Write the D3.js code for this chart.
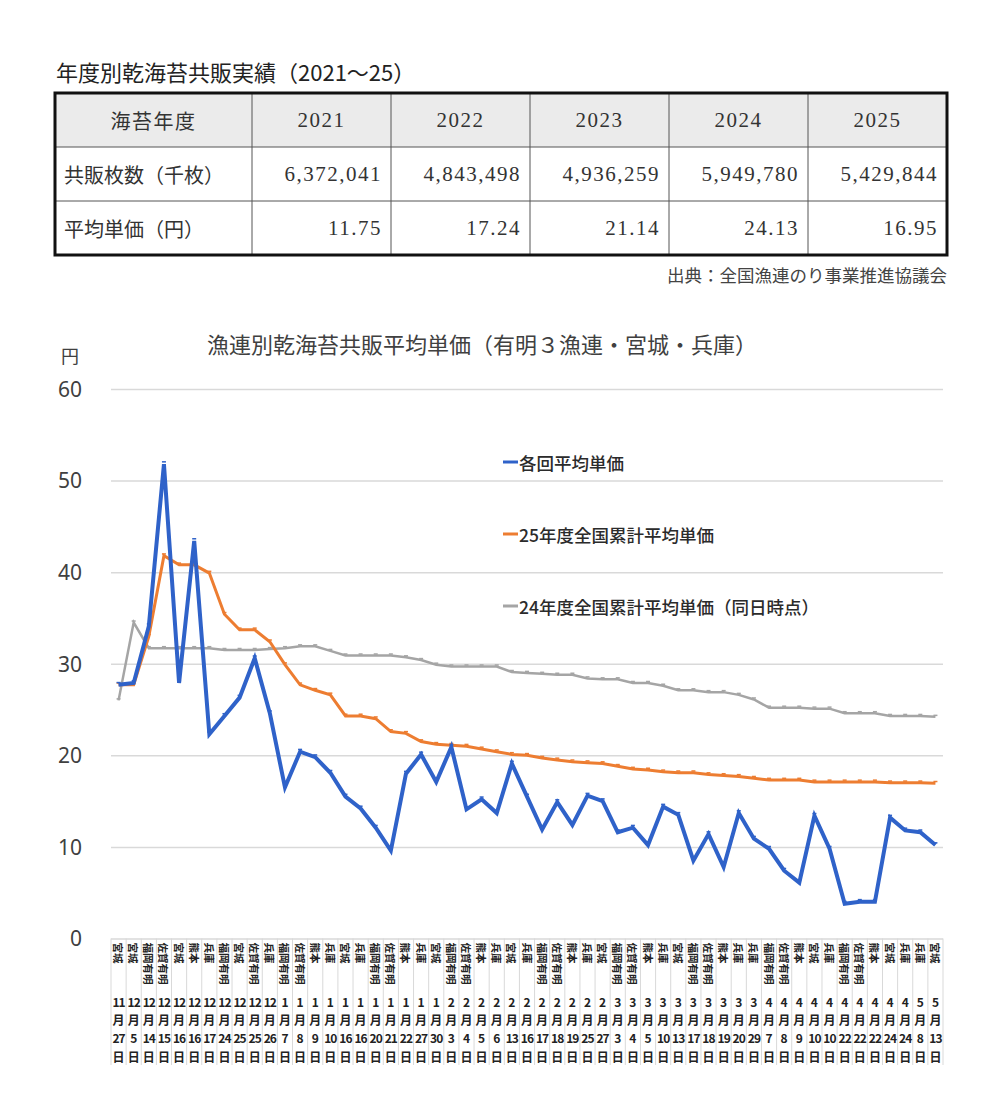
<!DOCTYPE html>
<html lang="ja">
<head>
  <meta charset="UTF-8">
  <title>年度別乾海苔共販実績・漁連別乾海苔共販平均単価</title>
  <script src="https://d3js.org/d3.v7.min.js"></script>
  <style>
    body {
      margin: 0;
      background: #fff;
      font-family: "Noto Sans CJK JP", "Noto Sans", sans-serif;
    }
    svg { display: block; }
    .tbl-text { fill: #333; font-size: 20px; }
    .tbl-num { font-family: "Liberation Serif", "Noto Sans CJK JP", serif; font-size: 21px; letter-spacing: 1.5px; }
    .y-axis text { font-family: "Noto Sans", sans-serif; font-size: 21px; fill: #404040; }
    .y-axis line { stroke: #d9d9d9; stroke-width: 1.5; }
    .y-axis path { display: none; }
    .series { fill: none; }
  </style>
</head>
<body>
  <svg id="chart" width="1000" height="1111"></svg>

  <script>
    // --- table data ---
    const tableYears = ["2021", "2022", "2023", "2024", "2025"];
    const salesSheets = [6372041, 4843498, 4936259, 5949780, 5429844];   // 千枚
    const avgPrices = [11.75, 17.24, 21.14, 24.13, 16.95];               // 円

    // --- chart data ---
    const regions = [
      "宮城", "宮城", "福岡有明", "佐賀有明", "宮城", "熊本", "兵庫", "福岡有明", "宮城", "佐賀有明",
      "兵庫", "福岡有明", "佐賀有明", "熊本", "兵庫", "宮城", "兵庫", "福岡有明", "佐賀有明", "熊本",
      "兵庫", "宮城", "福岡有明", "佐賀有明", "熊本", "兵庫", "宮城", "兵庫", "福岡有明", "佐賀有明",
      "熊本", "兵庫", "宮城", "福岡有明", "佐賀有明", "熊本", "兵庫", "宮城", "福岡有明", "佐賀有明",
      "熊本", "兵庫", "兵庫", "福岡有明", "佐賀有明", "熊本", "宮城", "兵庫", "福岡有明", "佐賀有明",
      "熊本", "宮城", "兵庫", "兵庫", "宮城"
    ];
    const months = [
      11, 12, 12, 12, 12, 12, 12, 12, 12, 12,
      12, 1, 1, 1, 1, 1, 1, 1, 1, 1,
      1, 1, 2, 2, 2, 2, 2, 2, 2, 2,
      2, 2, 2, 3, 3, 3, 3, 3, 3, 3,
      3, 3, 3, 4, 4, 4, 4, 4, 4, 4,
      4, 4, 4, 5, 5
    ];
    const days = [
      27, 5, 14, 15, 16, 16, 17, 24, 25, 25,
      26, 7, 8, 9, 10, 16, 16, 20, 21, 22,
      27, 30, 3, 4, 5, 6, 13, 16, 17, 18,
      19, 25, 27, 3, 4, 5, 10, 13, 17, 18,
      19, 20, 29, 7, 8, 9, 10, 10, 22, 22,
      22, 24, 24, 8, 13
    ];
    const eachAvg = [
      27.7, 27.9, 34.1, 51.8, 27.9, 43.4, 22.3, 24.3, 26.3, 30.6,
      24.6, 16.5, 20.4, 19.8, 18.1, 15.5, 14.2, 12.1, 9.6, 18.0,
      20.1, 17.1, 20.9, 14.1, 15.2, 13.7, 19.1, 15.5, 11.9, 14.9,
      12.4, 15.6, 15.0, 11.6, 12.1, 10.2, 14.4, 13.5, 8.5, 11.4,
      7.8, 13.7, 10.9, 9.8, 7.4, 6.1, 13.4, 9.8, 3.8, 4.0,
      4.0, 13.2, 11.8, 11.6, 10.2
    ];
    const cum25 = [
      27.7, 27.7, 33.0, 41.8, 40.8, 40.8, 39.9, 35.4, 33.7, 33.7,
      32.4, 29.9, 27.7, 27.1, 26.6, 24.3, 24.3, 24.0, 22.6, 22.4,
      21.5, 21.2, 21.1, 21.0, 20.7, 20.4, 20.1, 20.0, 19.7, 19.5,
      19.3, 19.2, 19.1, 18.8, 18.5, 18.4, 18.2, 18.1, 18.1, 17.9,
      17.8, 17.7, 17.5, 17.3, 17.3, 17.3, 17.1, 17.1, 17.1, 17.1,
      17.1, 17.0, 17.0, 17.0, 16.95
    ];
    const cum24 = [
      26.0, 34.5, 31.7, 31.7, 31.7, 31.7, 31.7, 31.5, 31.5, 31.5,
      31.6, 31.7, 31.9, 31.9, 31.4, 30.9, 30.9, 30.9, 30.9, 30.7,
      30.4, 29.9, 29.7, 29.7, 29.7, 29.7, 29.1, 29.0, 28.9, 28.8,
      28.8, 28.4, 28.3, 28.3, 27.9, 27.9, 27.6, 27.1, 27.1, 26.9,
      26.9, 26.6, 26.1, 25.2, 25.2, 25.2, 25.1, 25.1, 24.6, 24.6,
      24.6, 24.3, 24.3, 24.3, 24.2
    ];
    const seriesNames = ["各回平均単価", "25年度全国累計平均単価", "24年度全国累計平均単価（同日時点）"];
    const yTicks = [0, 10, 20, 30, 40, 50, 60];

    const svg = d3.select("#chart");

    // ---------- table ----------
    const tLeft = 55, tRight = 947, tTop = 93, rowH = 54, firstColW = 197;
    const colX = d3.scaleBand().domain(tableYears).range([tLeft + firstColW, tRight]);
    const rowY = d3.scaleBand().domain([0, 1, 2]).range([tTop, tTop + rowH * 3]);

    svg.append("text")
      .attr("x", 56).attr("y", 81)
      .attr("font-size", 22).attr("fill", "#222")
      .text("年度別乾海苔共販実績（2021～25）");

    svg.append("rect")
      .attr("x", tLeft).attr("y", rowY(0))
      .attr("width", tRight - tLeft).attr("height", rowY.bandwidth())
      .attr("fill", "#ebebeb");

    // inner lines
    [1, 2].forEach(r => {
      svg.append("line")
        .attr("x1", tLeft).attr("x2", tRight)
        .attr("y1", rowY(r)).attr("y2", rowY(r))
        .attr("stroke", "#555").attr("stroke-width", 1);
    });
    tableYears.forEach(yr => {
      svg.append("line")
        .attr("x1", colX(yr)).attr("x2", colX(yr))
        .attr("y1", tTop).attr("y2", tTop + rowH * 3)
        .attr("stroke", "#555").attr("stroke-width", 1);
    });
    svg.append("rect")
      .attr("x", tLeft).attr("y", tTop)
      .attr("width", tRight - tLeft).attr("height", rowH * 3)
      .attr("fill", "none").attr("stroke", "#111").attr("stroke-width", 3);

    const midY = r => rowY(r) + rowY.bandwidth() / 2;

    svg.append("text").attr("class", "tbl-text")
      .attr("x", tLeft + firstColW / 2).attr("y", midY(0))
      .attr("text-anchor", "middle").attr("dominant-baseline", "central")
      .attr("letter-spacing", 1.5)
      .text("海苔年度");
    svg.append("text").attr("class", "tbl-text")
      .attr("x", 64).attr("y", midY(1)).attr("dominant-baseline", "central")
      .text("共販枚数（千枚）");
    svg.append("text").attr("class", "tbl-text")
      .attr("x", 64).attr("y", midY(2)).attr("dominant-baseline", "central")
      .text("平均単価（円）");

    tableYears.forEach((yr, i) => {
      svg.append("text").attr("class", "tbl-text tbl-num")
        .attr("x", colX(yr) + colX.bandwidth() / 2).attr("y", midY(0))
        .attr("text-anchor", "middle").attr("dominant-baseline", "central")
        .text(yr);
      svg.append("text").attr("class", "tbl-text tbl-num")
        .attr("x", colX(yr) + colX.bandwidth() - 9).attr("y", midY(1))
        .attr("text-anchor", "end").attr("dominant-baseline", "central")
        .text(d3.format(",")(salesSheets[i]));
      svg.append("text").attr("class", "tbl-text tbl-num")
        .attr("x", colX(yr) + colX.bandwidth() - 9).attr("y", midY(2))
        .attr("text-anchor", "end").attr("dominant-baseline", "central")
        .text(d3.format(".2f")(avgPrices[i]));
    });

    svg.append("text")
      .attr("x", tRight).attr("y", 282)
      .attr("text-anchor", "end")
      .attr("font-size", 17.5).attr("fill", "#444")
      .text("出典：全国漁連のり事業推進協議会");

    // ---------- chart ----------
    const plotLeft = 111, plotRight = 943;
    const x = d3.scaleBand().domain(d3.range(regions.length)).range([plotLeft, plotRight]);
    const y = d3.scaleLinear().domain([0, 60]).range([938.5, 389]);
    const cx = i => x(i) + x.bandwidth() / 2;

    svg.append("text")
      .attr("x", 482).attr("y", 353)
      .attr("text-anchor", "middle")
      .attr("font-size", 22).attr("fill", "#404040")
      .text("漁連別乾海苔共販平均単価（有明３漁連・宮城・兵庫）");

    svg.append("text")
      .attr("x", 70).attr("y", 363)
      .attr("text-anchor", "middle")
      .attr("font-size", 18).attr("fill", "#404040")
      .text("円");

    svg.append("g")
      .attr("class", "y-axis")
      .attr("transform", `translate(${plotLeft},0)`)
      .call(d3.axisLeft(y).tickValues(yTicks).tickSize(-(plotRight - plotLeft)).tickPadding(29))
      .call(g => g.selectAll("text").attr("dy", "0.35em"));

    // category label area
    const labelTop = y(0), labelBottom = 1065;
    const sep = svg.append("g");
    d3.range(regions.length + 1).forEach(i => {
      const xx = i < regions.length ? x(i) : plotRight;
      sep.append("line")
        .attr("x1", xx).attr("x2", xx)
        .attr("y1", labelTop).attr("y2", labelBottom)
        .attr("stroke", "#d9d9d9").attr("stroke-width", 1);
    });

    const lab = svg.append("g");
    regions.forEach((r, i) => {
      lab.append("text")
        .attr("transform", `translate(${cx(i)},${labelTop + 4}) rotate(90)`)
        .attr("dominant-baseline", "central")
        .attr("font-size", 10.5).attr("font-weight", "bold").attr("fill", "#222")
        .text(r);
      const parts = [months[i], "月", days[i], "日"];
      parts.forEach((p, k) => {
        lab.append("text")
          .attr("x", cx(i)).attr("y", 1001 + k * 18.4)
          .attr("text-anchor", "middle").attr("dominant-baseline", "central")
          .attr("font-size", 12).attr("font-weight", "bold").attr("fill", "#222")
          .attr("letter-spacing", typeof p === "number" && p > 9 ? -0.9 : 0)
          .text(p);
      });
    });

    // series lines
    const line = d3.line().x((d, i) => cx(i)).y(d => y(d));
    const series = [
      { name: seriesNames[2], values: cum24, color: "#a5a5a5", width: 2.5 },
      { name: seriesNames[1], values: cum25, color: "#ed7d31", width: 3 },
      { name: seriesNames[0], values: eachAvg, color: "#2f62c9", width: 4 }
    ];
    series.forEach(s => {
      svg.append("path")
        .attr("class", "series")
        .attr("d", line(s.values))
        .attr("stroke", s.color)
        .attr("stroke-width", s.width);
      svg.append("g").selectAll("rect")
        .data(s.values)
        .join("rect")
        .attr("x", (d, i) => cx(i) - 2)
        .attr("y", d => y(d) - s.width / 2 - 1)
        .attr("width", 4).attr("height", 1.5)
        .attr("fill", s.color);
    });

    // legend
    const legendY = [462, 534, 606];
    const legendColors = ["#2f62c9", "#ed7d31", "#a5a5a5"];
    seriesNames.forEach((n, i) => {
      svg.append("line")
        .attr("x1", 503).attr("x2", 518)
        .attr("y1", legendY[i]).attr("y2", legendY[i])
        .attr("stroke", legendColors[i]).attr("stroke-width", 3);
      svg.append("text")
        .attr("x", 519).attr("y", legendY[i])
        .attr("dominant-baseline", "central")
        .attr("font-size", 17.5).attr("font-weight", 500).attr("fill", "#2b2b2b")
        .text(n);
    });
  </script>
</body>
</html>
